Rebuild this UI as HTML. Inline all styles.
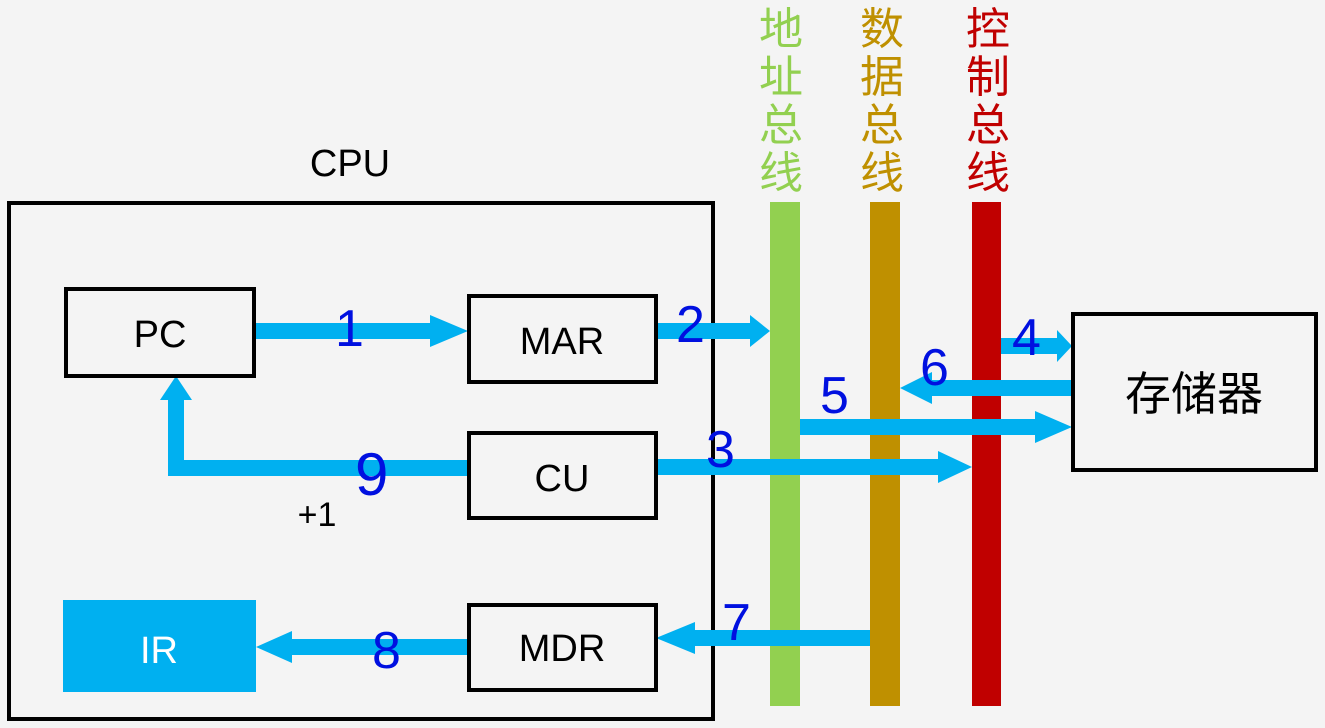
<!DOCTYPE html>
<html><head><meta charset="utf-8"><style>
body{margin:0;background:#f4f4f4;}
svg{display:block}
.t{font-family:"Liberation Sans","Noto Sans CJK SC",sans-serif;}
.h{font-family:"Liberation Sans",sans-serif;fill:#0010e0;font-size:52px;}
</style></head><body>
<svg width="1325" height="728" viewBox="0 0 1325 728" xmlns="http://www.w3.org/2000/svg">
<rect width="1325" height="728" fill="#f4f4f4"/>
<text class="t" x="350" y="176" font-size="38" text-anchor="middle">CPU</text>
<rect x="9" y="203" width="704" height="516" fill="none" stroke="#000" stroke-width="4"/>
<rect x="770" y="202" width="30" height="504" fill="#92d050"/>
<rect x="870" y="202" width="30" height="504" fill="#bf9000"/>
<rect x="972" y="202" width="29" height="504" fill="#c00000"/>
<g class="t" font-size="44" text-anchor="middle">
<text x="781" y="44" fill="#92d050">地</text><text x="781" y="92" fill="#92d050">址</text><text x="781" y="140" fill="#92d050">总</text><text x="781" y="188" fill="#92d050">线</text>
<text x="882" y="44" fill="#bf9000">数</text><text x="882" y="92" fill="#bf9000">据</text><text x="882" y="140" fill="#bf9000">总</text><text x="882" y="188" fill="#bf9000">线</text>
<text x="988" y="44" fill="#c00000">控</text><text x="988" y="92" fill="#c00000">制</text><text x="988" y="140" fill="#c00000">总</text><text x="988" y="188" fill="#c00000">线</text>
</g>
<g fill="#00b0f0">
<rect x="256" y="323" width="176" height="16"/><polygon points="430,315 468,331 430,347"/>
<rect x="656" y="323" width="96" height="16"/><polygon points="750,315 770,331 750,347"/>
<rect x="1001" y="338" width="58" height="16"/><polygon points="1057,330 1072,346 1057,362"/>
<rect x="930" y="380" width="142" height="16"/><polygon points="932,372 900,388 932,404"/>
<rect x="800" y="419" width="237" height="16"/><polygon points="1035,411 1072,427 1035,443"/>
<rect x="656" y="459" width="284" height="16"/><polygon points="938,451 972,467 938,483"/>
<rect x="168" y="460" width="300" height="16"/><rect x="168" y="398" width="16" height="78"/><polygon points="160,400 176,376 192,400"/>
<rect x="693" y="630" width="177" height="16"/><polygon points="695,622 656,638 695,654"/>
<rect x="290" y="639" width="178" height="16"/><polygon points="292,631 256,647 292,663"/>
<rect x="63" y="600" width="193" height="92"/>
</g>
<g fill="none" stroke="#000" stroke-width="4">
<rect x="66" y="289" width="188" height="87" fill="#f4f4f4"/>
<rect x="469" y="296" width="187" height="86" fill="#f4f4f4"/>
<rect x="469" y="433" width="187" height="85" fill="#f4f4f4"/>
<rect x="469" y="605" width="187" height="85" fill="#f4f4f4"/>
<rect x="1073" y="314" width="243" height="156" fill="#f4f4f4"/>
</g>
<g class="t" font-size="38" text-anchor="middle">
<text x="160" y="347">PC</text>
<text x="562" y="354">MAR</text>
<text x="562" y="491">CU</text>
<text x="562" y="661">MDR</text>
<text x="159" y="663" fill="#fff">IR</text>
<text x="1194" y="410" font-size="46">存储器</text>
<text x="317" y="526" font-size="34">+1</text>
</g>
<g class="h">
<text x="335" y="346">1</text>
<text x="676" y="342">2</text>
<text x="706" y="467">3</text>
<text x="1012" y="355">4</text>
<text x="820" y="413">5</text>
<text x="920" y="385">6</text>
<text x="722" y="640">7</text>
<text x="372" y="668">8</text>
<text x="355" y="495" font-size="60">9</text>
</g>
</svg>
</body></html>
